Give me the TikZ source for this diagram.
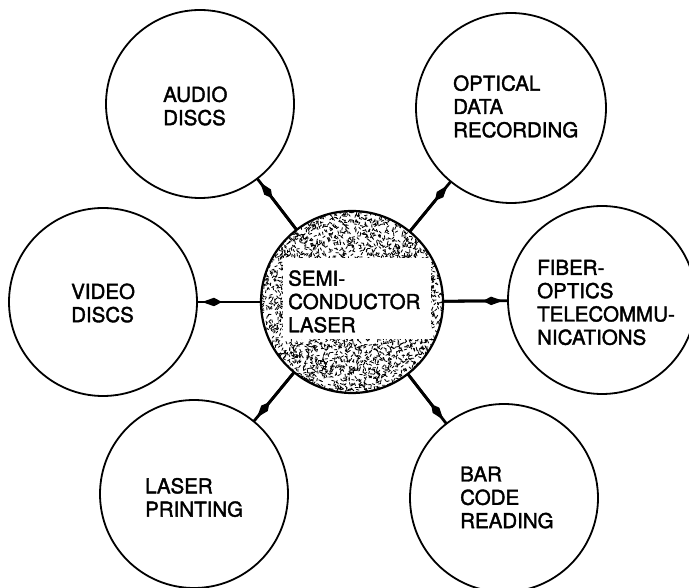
\documentclass[tikz,border=0pt]{standalone}
\usepackage{fontspec}
\setmainfont{TeX Gyre Heros}
\newfontfamily\lblfont{TeX Gyre Heros}[FakeBold=1.8]
\usetikzlibrary{arrows.meta}
\tikzset{
  app/.style={circle, draw, line width=1.8pt, inner sep=0pt, outer sep=0pt, minimum size=188pt},
  core/.style={circle, draw, line width=2.2pt, inner sep=0pt, outer sep=0pt, minimum size=182pt},
  lbl/.style={align=left, inner sep=0pt, anchor=west, font=\lblfont\fontsize{20.5}{23.3}\selectfont},
  conn/.style={line width=2.8pt},
  head/.style={line width=2.8pt, shorten >=5pt, -{Kite[length=20pt,width=8.5pt,inset=8pt]}},
  speck/.style={line width=0.85pt, line cap=round}
}
\begin{document}
\begin{tikzpicture}[x=1pt,y=-1pt]
\useasboundingbox (0,0) rectangle (689,588);
\clip (0,0) rectangle (689,588);
% stipple of the central circle
\pgfmathsetseed{4711}
\begin{scope}
  \clip (352,302) circle (91);
  \foreach \i in {1,...,3800}{
    \pgfmathsetmacro\xx{261+182*rnd}
    \pgfmathsetmacro\yy{211+182*rnd}
    \pgfmathsetmacro\aa{360*rnd}
    \draw[speck] (\xx,\yy) -- ++(\aa:2.6);
  }
  \fill[white] (283,258) rectangle (431,339);
\end{scope}
\node[core] (central) at (352,302) {};
% application circles
\node[app] (audio) at (200,104) {};
\node[app, minimum size=190pt] (optical) at (511,108) {};
\node[app] (video) at (103,302) {};
\node[app] (fiber) at (602,300) {};
\node[app] (laser) at (194,494) {};
\node[app] (bar) at (504,498) {};
% labels
\node[lbl] (centralt) at (288,301.5) {SEMI-\\CONDUCTOR\\LASER};
\node[lbl] (audiot) at (163,106) {AUDIO\\DISCS};
\node[lbl] (opticalt) at (453,106.5) {OPTICAL\\DATA\\RECORDING};
\node[lbl] (videot) at (71,303) {VIDEO\\DISCS};
\node[lbl] (fibert) at (537,302.5) {FIBER-\\OPTICS\\TELECOMMU-\\NICATIONS};
\node[lbl] (lasert) at (145,497.5) {LASER\\PRINTING};
\node[lbl] (bart) at (460,497.5) {BAR\\CODE\\READING};
% connectors
\foreach \t in {audio,optical,video,fiber,laser,bar}{
  \draw[conn] (central) -- (\t);
  \draw[head] (central) -- (\t);
}
\end{tikzpicture}
\end{document}
